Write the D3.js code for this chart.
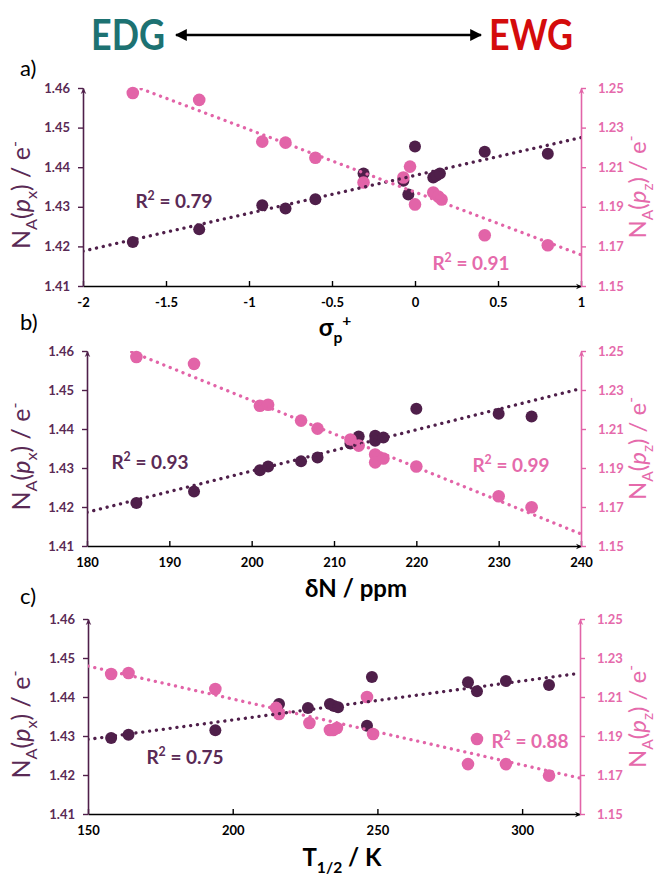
<!DOCTYPE html>
<html>
<head>
<meta charset="utf-8">
<script src="https://cdn.jsdelivr.net/npm/d3@7"></script>
<style>
  body { margin: 0; background: #fff; }
  svg { display: block; font-family: Lato, "Open Sans", sans-serif; }
</style>
</head>
<body>
<div class="chart"></div>
<script>
// ---- data ----
// a) Hammett sigma_p+
const sigX   = [-1.70, -1.30, -0.92, -0.78, -0.60, -0.31, -0.07, -0.04, 0.00, 0.11, 0.13, 0.15, 0.42, 0.80];
const sigPx  = [1.4211, 1.4243, 1.4304, 1.4296, 1.4319, 1.4384, 1.4366, 1.4331, 1.4452, 1.4374, 1.4379, 1.4384, 1.4439, 1.4434];
const sigZX  = [-1.70, -1.30, -0.92, -0.78, -0.60, -0.31, -0.07, -0.03, 0.00, 0.11, 0.14, 0.16, 0.42, 0.80];
const sigPz  = [1.2475, 1.2440, 1.2229, 1.2224, 1.2148, 1.2023, 1.2048, 1.2103, 1.1912, 1.1972, 1.1952, 1.1937, 1.1756, 1.1706];

// b) delta N / ppm
const dnX    = [186, 193, 201, 202, 206, 208, 212, 213, 215, 215, 216, 220, 230, 234];
const dnPx   = [1.4210, 1.4240, 1.4294, 1.4304, 1.4317, 1.4327, 1.4363, 1.4381, 1.4383, 1.4370, 1.4378, 1.4452, 1.4439, 1.4432];
const dnPz   = [1.2469, 1.2434, 1.2219, 1.2224, 1.2143, 1.2102, 1.2046, 1.2015, 1.1969, 1.1929, 1.1949, 1.1908, 1.1755, 1.1699];

// c) T1/2 / K
const tX     = [158, 164, 194, 216, 226, 233.6, 235, 236.4, 246.4, 248.1, 281.3, 284.4, 294.4, 309.3];
const tPx    = [1.4295, 1.4303, 1.4315, 1.4382, 1.4372, 1.4382, 1.4377, 1.4374, 1.4326, 1.4451, 1.4438, 1.4415, 1.4441, 1.4431];
const tZX    = [158, 164, 194, 215, 216, 226.5, 233.6, 234.7, 236, 246.4, 248.5, 281.3, 284.4, 294.4, 309.3];
const tPz    = [1.2218, 1.2223, 1.2141, 1.2044, 1.2013, 1.1967, 1.1931, 1.1931, 1.1941, 1.2100, 1.1910, 1.1756, 1.1885, 1.1756, 1.1697];

const leftTicks  = [1.41, 1.42, 1.43, 1.44, 1.45, 1.46];
const rightTicks = [1.15, 1.17, 1.19, 1.21, 1.23, 1.25];
const sigTicks   = [-2, -1.5, -1, -0.5, 0, 0.5, 1];
const dnTicks    = [180, 190, 200, 210, 220, 230, 240];
const tTicks     = [150, 200, 250, 300];
const r2Labels   = [["0.79", "0.91"], ["0.93", "0.99"], ["0.75", "0.88"]];

const dark = "#4f1f4a", darkText = "#5a2a55", pink = "#e264a8", pinkText = "#e56aab";

const svg = d3.select(".chart").append("svg")
  .attr("width", 659).attr("height", 875);

const defs = svg.append("defs");
function arrowMarker(id, color) {
  defs.append("marker")
    .attr("id", id).attr("viewBox", "0 0 10 10")
    .attr("refX", 8).attr("refY", 5)
    .attr("markerWidth", 7).attr("markerHeight", 7)
    .attr("markerUnits", "userSpaceOnUse")
    .attr("orient", "auto")
    .append("path").attr("d", "M0,1 L9,5 L0,9 L3,5 Z").attr("fill", color);
}
arrowMarker("arDark", dark);
arrowMarker("arPink", pink);
arrowMarker("arBlack", "#000");
defs.append("marker")
  .attr("id", "bigArrow").attr("viewBox", "0 0 10 10")
  .attr("refX", 9).attr("refY", 5)
  .attr("markerWidth", 12).attr("markerHeight", 12)
  .attr("markerUnits", "userSpaceOnUse")
  .attr("orient", "auto-start-reverse")
  .append("path").attr("d", "M0,0 L10,5 L0,10 Z").attr("fill", "#000");

// rich text helper: segments {t, sub, sup, it}
function rich(sel, segs, size) {
  const t = sel.append("text").attr("font-size", size);
  let shift = 0;
  segs.forEach(s => {
    const ts = t.append("tspan").text(s.t);
    let target = s.sub ? 0.28 : s.sup ? -0.42 : 0;
    const dy = (target - shift) * size;
    if (dy !== 0) ts.attr("dy", dy);
    shift = target;
    if (s.sub || s.sup) ts.attr("font-size", size * 0.65);
    if (s.it) ts.attr("font-style", "italic");
  });
  return t;
}

// header
svg.append("text").attr("x", 128).attr("y", 50).attr("text-anchor", "middle")
  .attr("font-size", 42).attr("font-weight", 700).attr("fill", "#1d7272")
  .attr("textLength", 74).attr("lengthAdjust", "spacingAndGlyphs").text("EDG");
svg.append("text").attr("x", 531).attr("y", 50).attr("text-anchor", "middle")
  .attr("font-size", 42).attr("font-weight", 700).attr("fill", "#d40c0c")
  .attr("textLength", 84).attr("lengthAdjust", "spacingAndGlyphs").text("EWG");
svg.append("line").attr("x1", 176).attr("x2", 481).attr("y1", 35).attr("y2", 35)
  .attr("stroke", "#000").attr("stroke-width", 2.5)
  .attr("marker-start", "url(#bigArrow)").attr("marker-end", "url(#bigArrow)");

const panels = [
  { tag: "a)", tagY: 76, x0: 83, x1: 581, yTop: 88, yBot: 286,
    dom: [-2, 1], ticks: sigTicks,
    px: [sigX, sigPx], pz: [sigZX, sigPz],
    title: [{ t: "σ" }, { t: "p", sub: true }, { t: "+", sup: true }], titleX: 335, titleY: 336,
    r2: [[174, 208], [471, 270]] },
  { tag: "b)", tagY: 330, x0: 87, x1: 581, yTop: 351, yBot: 546,
    dom: [180, 240], ticks: dnTicks,
    px: [dnX, dnPx], pz: [dnX, dnPz],
    title: [{ t: "δN / ppm" }], titleX: 356, titleY: 597,
    r2: [[150, 469], [511, 472]] },
  { tag: "c)", tagY: 604, x0: 88, x1: 580, yTop: 619, yBot: 814,
    dom: [150, 320], ticks: tTicks,
    px: [tX, tPx], pz: [tZX, tPz],
    title: [{ t: "T" }, { t: "1/2", sub: true }, { t: " / K" }], titleX: 342, titleY: 866,
    r2: [[185, 764], [530, 748]] }
];

function linReg(xs, ys) {
  const mx = d3.mean(xs), my = d3.mean(ys);
  const b = d3.sum(xs, (x, i) => (x - mx) * (ys[i] - my)) / d3.sum(xs, x => (x - mx) * (x - mx));
  return x => my + b * (x - mx);
}

panels.forEach((p, pi) => {
  const g = svg.append("g");
  const x = d3.scaleLinear().domain(p.dom).range([p.x0, p.x1]);
  const yL = d3.scaleLinear().domain([1.41, 1.46]).range([p.yBot, p.yTop]);
  const yR = d3.scaleLinear().domain([1.15, 1.25]).range([p.yBot, p.yTop]);

  // panel tag
  g.append("text").attr("x", 20).attr("y", p.tagY).attr("font-size", 22).text(p.tag);

  // axes
  const ax = g.append("g").attr("transform", `translate(0,${p.yBot})`)
    .call(d3.axisBottom(x).tickValues(p.ticks).tickFormat(d => String(d))
      .tickSizeInner(-5).tickSizeOuter(0).tickPadding(12));
  ax.select(".domain").attr("stroke", "#000").attr("stroke-width", 1.6).attr("marker-end", "url(#arBlack)");
  ax.selectAll(".tick line").attr("stroke", "#000").attr("stroke-width", 1.4);
  ax.selectAll(".tick text").attr("font-size", 13).attr("font-weight", 700).attr("fill", "#000")
    .attr("font-family", "Lato, sans-serif");

  const al = g.append("g").attr("transform", `translate(${p.x0},0)`)
    .call(d3.axisLeft(yL).tickValues(leftTicks).tickFormat(d3.format(".2f"))
      .tickSizeInner(5).tickSizeOuter(0).tickPadding(8));
  al.select(".domain").attr("stroke", dark).attr("stroke-width", 1.6).attr("marker-end", "url(#arDark)");
  al.selectAll(".tick line").attr("stroke", dark).attr("stroke-width", 1.4);
  al.selectAll(".tick text").attr("font-size", 13).attr("font-weight", 700).attr("fill", darkText)
    .attr("font-family", "Lato, sans-serif");

  const ar = g.append("g").attr("transform", `translate(${p.x1},0)`)
    .call(d3.axisRight(yR).tickValues(rightTicks).tickFormat(d3.format(".2f"))
      .tickSizeInner(5).tickSizeOuter(0).tickPadding(12));
  ar.select(".domain").attr("stroke", pink).attr("stroke-width", 1.6).attr("marker-end", "url(#arPink)");
  ar.selectAll(".tick line").attr("stroke", pink).attr("stroke-width", 1.4);
  ar.selectAll(".tick text").attr("font-size", 13).attr("font-weight", 700).attr("fill", pinkText)
    .attr("font-family", "Lato, sans-serif");

  // axis titles
  rich(g, [{ t: "N" }, { t: "A", sub: true }, { t: "(" }, { t: "p", it: true }, { t: "x", sub: true },
    { t: ") / e" }, { t: "-", sup: true }], 25)
    .attr("fill", darkText).attr("text-anchor", "middle")
    .attr("transform", `translate(30,${(p.yTop + p.yBot) / 2 + 8}) rotate(-90)`);
  rich(g, [{ t: "N" }, { t: "A", sub: true }, { t: "(" }, { t: "p", it: true }, { t: "z", sub: true },
    { t: ") / e" }, { t: "-", sup: true }], 24)
    .attr("fill", pinkText).attr("text-anchor", "middle")
    .attr("transform", `translate(646,${(p.yTop + p.yBot) / 2}) rotate(-90)`);

  rich(g, p.title, 24).attr("font-weight", 700).attr("text-anchor", "middle")
    .attr("x", p.titleX).attr("y", p.titleY);

  // clip for trendlines
  const clipId = "clip" + pi;
  defs.append("clipPath").attr("id", clipId).append("rect")
    .attr("x", p.x0).attr("y", p.yTop).attr("width", p.x1 - p.x0).attr("height", p.yBot - p.yTop);

  // points
  g.append("g").selectAll("circle").data(p.px[0]).enter().append("circle")
    .attr("cx", d => x(d)).attr("cy", (d, i) => yL(p.px[1][i])).attr("r", 6).attr("fill", dark);
  g.append("g").selectAll("circle").data(p.pz[0]).enter().append("circle")
    .attr("cx", d => x(d)).attr("cy", (d, i) => yR(p.pz[1][i])).attr("r", 6.3).attr("fill", pink);

  // trendlines
  const fL = linReg(p.px[0], p.px[1]);
  const fR = linReg(p.pz[0], p.pz[1]);
  const tl = g.append("g").attr("clip-path", `url(#${clipId})`);
  tl.append("line").attr("x1", x(p.dom[0])).attr("x2", x(p.dom[1]))
    .attr("y1", yL(fL(p.dom[0]))).attr("y2", yL(fL(p.dom[1])))
    .attr("stroke", dark).attr("stroke-width", 3.3).attr("stroke-linecap", "round")
    .attr("stroke-dasharray", "0.1 6.8");
  tl.append("line").attr("x1", x(p.dom[0])).attr("x2", x(p.dom[1]))
    .attr("y1", yR(fR(p.dom[0]))).attr("y2", yR(fR(p.dom[1])))
    .attr("stroke", pink).attr("stroke-width", 3.3).attr("stroke-linecap", "round")
    .attr("stroke-dasharray", "0.1 6.8");

  // R2 labels
  rich(g, [{ t: "R" }, { t: "2", sup: true }, { t: " = " + r2Labels[pi][0] }], 19)
    .attr("font-weight", 700).attr("fill", darkText).attr("text-anchor", "middle")
    .attr("x", p.r2[0][0]).attr("y", p.r2[0][1]);
  rich(g, [{ t: "R" }, { t: "2", sup: true }, { t: " = " + r2Labels[pi][1] }], 19)
    .attr("font-weight", 700).attr("fill", pinkText).attr("text-anchor", "middle")
    .attr("x", p.r2[1][0]).attr("y", p.r2[1][1]);
});
</script>
</body>
</html>
